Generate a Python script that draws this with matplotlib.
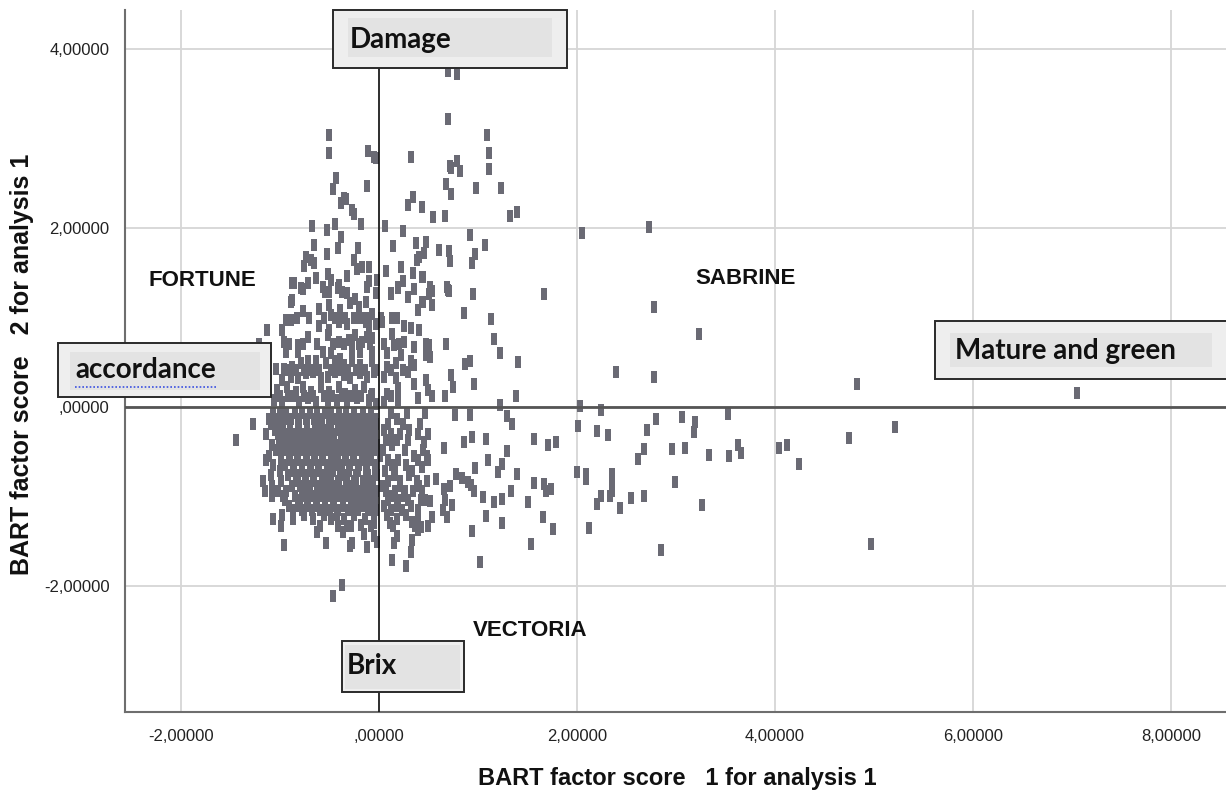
import matplotlib
matplotlib.use("Agg")
import matplotlib.pyplot as plt
from matplotlib.patches import Rectangle
from matplotlib.lines import Line2D

# ---------------- data ----------------
# sparse points on the right side of the cloud
right_x = [2.05, 2.73, 2.78, 3.23, 2.39, 2.78, 4.83, 7.05, 2.03, 2.24, 3.53, 2.01, 2.20, 2.31,
           2.71, 2.80, 3.06, 3.19, 3.18, 5.21, 4.75, 2.68, 2.62, 2.96, 3.09, 3.33, 3.54, 3.63,
           3.66, 4.04, 4.12, 4.24, 2.00, 2.09, 2.09, 2.35, 2.35, 2.35, 2.24, 2.20, 2.33, 2.43,
           2.55, 2.68, 2.99, 3.26, 2.12, 2.85, 4.97]
right_y = [1.94, 2.01, 1.12, 0.82, 0.39, 0.34, 0.26, 0.16, 0.01, -0.03, -0.08, -0.21, -0.27, -0.31,
           -0.26, -0.13, -0.11, -0.17, -0.28, -0.22, -0.34, -0.47, -0.58, -0.47, -0.46, -0.53, -0.55, -0.42,
           -0.51, -0.46, -0.42, -0.63, -0.72, -0.74, -0.80, -0.74, -0.85, -0.94, -0.99, -1.08, -0.99, -1.12,
           -1.01, -0.99, -0.84, -1.09, -1.35, -1.59, -1.53]

# upper part of the cloud
upper_x = [0.70, 0.79, 0.70, -0.51, -0.51, 1.09, 1.11, 1.11, -0.11, -0.05, -0.03, 0.32, 0.72, 0.79,
           0.82, 0.73, -0.43, -0.46, -0.12, 0.68, 0.73, 0.98, 1.23, -0.35, -0.38, -0.33, 0.34, 0.29,
           0.43, -0.27, -0.25, -0.18, 0.55, 0.67, 1.32, 1.39, -0.68, -0.53, -0.44, 0.06, 0.24, -0.38,
           0.92, -0.66, -0.41, -0.53, -0.21, 0.14, 0.37, 0.47, 0.45, 0.61, 0.71, 0.72, 1.07, 0.97,
           0.94, 0.38, 0.40, -0.74, -0.69, -0.76, -0.66, -0.25, -0.22, -0.17, -0.10, -0.10, -0.02, 0.07,
           0.22, 0.34, 0.44, 0.24, 0.19, 0.12, 0.52, 0.70, 0.95, 1.67, -0.86, -0.79, -0.72, -0.64,
           -0.52, -0.49, -0.55, -0.41, -0.32, -0.37, -0.88]
upper_y = [3.75, 3.72, 3.21, 3.04, 2.84, 3.04, 2.83, 2.66, 2.86, 2.79, 2.78, 2.79, 2.69, 2.75,
           2.63, 2.67, 2.56, 2.43, 2.47, 2.49, 2.38, 2.45, 2.45, 2.33, 2.28, 2.32, 2.34, 2.25,
           2.23, 2.20, 2.15, 2.04, 2.12, 2.13, 2.13, 2.18, 2.02, 1.98, 2.04, 2.02, 1.97, 1.90,
           1.92, 1.81, 1.77, 1.71, 1.77, 1.80, 1.83, 1.84, 1.72, 1.75, 1.74, 1.63, 1.81, 1.71,
           1.61, 1.64, 1.67, 1.67, 1.64, 1.57, 1.61, 1.64, 1.54, 1.56, 1.56, 1.41, 1.42, 1.52,
           1.56, 1.50, 1.45, 1.41, 1.33, 1.26, 1.32, 1.31, 1.26, 1.26, 1.39, 1.33, 1.39, 1.44,
           1.49, 1.42, 1.29, 1.33, 1.46, 1.29, 1.20]

# middle band of the cloud (0 < score 2 < 1.45)
mid_x = [-0.88, -0.77, -0.57, -0.51, -0.40, -0.32, -0.24, -0.12, -0.03,
         -0.89, -0.77, -0.61, -0.51, -0.49, -0.39, -0.29, -0.20, -0.13, -0.07,
         0.12, 0.19, 0.29, 0.35, 0.44, 0.52, 0.54,
         -0.94, -0.89, -1.13, -0.98, -0.61, -0.51, -0.40, -0.32, -0.20, -0.13, -0.10, -0.03, 0.03,
         0.13, 0.25, 0.32, 0.39, 0.40,
         -0.96, -0.82, -0.72, -0.52, -0.40, -0.30, -0.24, -0.17, -0.12, -0.07,
         0.13, 0.15, 0.25, 0.35, 0.47, 0.51,
         -0.94, -0.82, -0.57, -0.49, -0.39, -0.27, -0.19, -0.07,
         0.08, 0.22, 0.32, 0.47, -1.21,
         -1.04, -0.96, -0.88, -0.79, -0.72, -0.64, -0.54, -0.44, -0.35, -0.27, -0.19, -0.07,
         0.08, 0.17, 0.29, 0.35,
         -0.98, -0.89, -0.82, -0.74, -0.67, -0.59, -0.52, -0.44, -0.35, -0.29, -0.19, -0.12, -0.05,
         0.05, 0.17, 0.35, 0.47,
         -1.03, -0.93, -0.84, -0.77, -0.69, -0.59, -0.51, -0.40, -0.34, -0.24, -0.15, -0.07,
         0.08, 0.19, 0.49, 0.54,
         -1.06, -0.98, -0.89, -0.81, -0.72, -0.64, -0.52, -0.42, -0.32, -0.22, -0.10, -0.03,
         0.05, 0.19, 0.39,
         0.43, 0.50, 0.54, 0.43, 0.69, 0.71, 0.86, 1.13, 1.16, 0.50, 0.68, 1.22, 0.87, 0.92,
         1.40, 0.73, 0.96, 0.75, 0.67, 1.38, 1.22]
mid_y = [1.38, 1.32, 1.34, 1.29, 1.36, 1.27, 1.21, 1.34, 1.27,
         1.17, 1.07, 1.10, 1.14, 1.03, 1.08, 1.16, 1.12, 1.17, 1.04,
         1.27, 1.34, 1.23, 1.32, 1.17, 1.34, 1.14,
         0.97, 0.97, 0.86, 0.86, 0.91, 0.86, 0.95, 0.93, 0.99, 0.95, 0.86, 0.93, 0.95,
         0.99, 0.91, 0.88, 1.08, 0.86,
         0.73, 0.69, 0.78, 0.80, 0.73, 0.75, 0.80, 0.73, 0.78, 0.77,
         0.82, 0.69, 0.73, 0.67, 0.71, 0.56,
         0.62, 0.62, 0.62, 0.60, 0.54, 0.65, 0.62, 0.62,
         0.60, 0.58, 0.52, 0.58, 0.71,
         0.43, 0.43, 0.45, 0.49, 0.51, 0.52, 0.49, 0.52, 0.47, 0.52, 0.47, 0.51,
         0.45, 0.49, 0.39, 0.47,
         0.30, 0.34, 0.32, 0.38, 0.39, 0.32, 0.34, 0.39, 0.36, 0.32, 0.38, 0.34, 0.39,
         0.34, 0.32, 0.26, 0.30,
         0.19, 0.23, 0.17, 0.23, 0.17, 0.23, 0.17, 0.23, 0.15, 0.19, 0.23, 0.15,
         0.15, 0.21, 0.19, 0.13,
         0.08, 0.06, 0.12, 0.06, 0.10, 0.06, 0.08, 0.08, 0.06, 0.10, 0.08, 0.04,
         0.06, 0.08, 0.10,
         1.45, 1.26, 1.30, 1.17, 1.34, 1.30, 1.05, 0.98, 0.76, 0.69, 0.71, 0.60, 0.48, 0.51,
         0.50, 0.36, 0.26, 0.22, 0.12, 0.12, 0.02]

# densely overlapping parts: each row gives a score-2 level and the score-1 values read along it
dense_rows_y = [1.00, 0.70, 0.41, 0.13,
                -0.07, -0.13, -0.19, -0.25, -0.30, -0.37, -0.42, -0.48, -0.54, -0.59, -0.65,
                -0.71, -0.76, -0.82, -0.88, -0.93, -0.99, -1.04, -1.10, -1.15, -1.20, -1.25, -1.32]
dense_rows_x = [
    [-0.83, -0.71, -0.56, -0.44, -0.34, -0.25, -0.16, -0.10, 0.02, 0.18],
    [-0.91, -0.77, -0.63, -0.46, -0.35, -0.27, -0.20, -0.09, 0.05, 0.20],
    [-0.93, -0.84, -0.76, -0.69, -0.61, -0.49, -0.39, -0.31, -0.23, -0.14, -0.03, 0.12, 0.24],
    [-1.00, -0.92, -0.85, -0.76, -0.67, -0.56, -0.47, -0.37, -0.28, -0.18, -0.08, 0.12],
    [-1.07, -1.00, -0.94, -0.85, -0.78, -0.70, -0.63, -0.55, -0.48, -0.40, -0.33, -0.25, -0.16, -0.08, 0.12, 0.28, 0.46],
    [-1.11, -1.03, -0.96, -0.89, -0.81, -0.74, -0.66, -0.59, -0.51, -0.44, -0.37, -0.29, -0.21, -0.12, -0.04, 0.18],
    [-1.27, -1.09, -0.99, -0.90, -0.82, -0.73, -0.65, -0.58, -0.50, -0.41, -0.35, -0.26, -0.18, -0.09, -0.03, 0.09, 0.24, 0.41],
    [-1.05, -0.97, -0.90, -0.81, -0.73, -0.64, -0.56, -0.48, -0.40, -0.32, -0.24, -0.15, -0.07, 0.05, 0.30],
    [-1.14, -1.02, -0.94, -0.85, -0.77, -0.68, -0.60, -0.52, -0.45, -0.36, -0.28, -0.20, -0.11, -0.04, 0.12, 0.21, 0.39, 0.49],
    [-1.44, -0.99, -0.89, -0.80, -0.72, -0.63, -0.55, -0.46, -0.38, -0.31, -0.23, -0.14, -0.06, 0.07, 0.18, 0.29],
    [-1.08, -1.01, -0.93, -0.84, -0.76, -0.67, -0.59, -0.50, -0.42, -0.34, -0.27, -0.18, -0.10, -0.02, 0.13],
    [-1.04, -0.95, -0.87, -0.78, -0.70, -0.62, -0.53, -0.45, -0.38, -0.30, -0.21, -0.13, -0.04, 0.04, 0.26, 0.44],
    [-1.11, -0.99, -0.91, -0.83, -0.74, -0.66, -0.58, -0.49, -0.42, -0.34, -0.26, -0.17, -0.10, 0.01, 0.35],
    [-1.14, -0.99, -0.90, -0.82, -0.73, -0.65, -0.57, -0.48, -0.41, -0.33, -0.25, -0.16, -0.08, 0.09, 0.19, 0.39, 0.49],
    [-1.07, -0.95, -0.86, -0.78, -0.69, -0.61, -0.52, -0.44, -0.37, -0.29, -0.20, -0.12, -0.03, 0.13, 0.27],
    [-1.00, -0.87, -0.78, -0.70, -0.62, -0.53, -0.46, -0.38, -0.30, -0.21, -0.13, -0.04, 0.06, 0.16, 0.33],
    [-1.09, -0.92, -0.84, -0.74, -0.66, -0.56, -0.48, -0.39, -0.32, -0.23, -0.11, -0.02, 0.15, 0.30],
    [-1.17, -0.99, -0.82, -0.75, -0.67, -0.58, -0.50, -0.41, -0.33, -0.25, -0.16, -0.08, 0.09, 0.21, 0.38, 0.48],
    [-1.08, -0.88, -0.80, -0.72, -0.63, -0.56, -0.47, -0.40, -0.31, -0.23, -0.14, -0.06, 0.03, 0.21, 0.40],
    [-1.15, -1.02, -0.94, -0.78, -0.70, -0.62, -0.53, -0.45, -0.36, -0.28, -0.20, -0.11, -0.03, 0.07, 0.16, 0.26, 0.34, 0.43],
    [-1.08, -0.97, -0.85, -0.76, -0.67, -0.59, -0.50, -0.42, -0.33, -0.24, -0.15, -0.07, 0.13, 0.25],
    [-0.95, -0.80, -0.72, -0.63, -0.55, -0.46, -0.36, -0.28, -0.20, -0.11, -0.04, 0.09, 0.19, 0.29, 0.46],
    [-0.91, -0.82, -0.73, -0.64, -0.55, -0.45, -0.36, -0.26, -0.16, -0.07, 0.05, 0.18, 0.32],
    [-0.87, -0.78, -0.68, -0.60, -0.50, -0.41, -0.31, -0.21, -0.11, -0.03, 0.12, 0.23, 0.39],
    [-0.98, -0.76, -0.56, -0.42, -0.25, -0.05, 0.08, 0.27],
    [-1.07, -0.87, -0.67, -0.48, -0.35, -0.14, 0.18, 0.39],
    [-0.99, -0.60, -0.41, -0.28, -0.08, 0.14, 0.36, 0.49],
]

# scattered points below zero (bottom tail and right of the dense band)
tail_x = [-0.96, -0.63, -0.54, -0.36, -0.32, -0.29, -0.27, -0.18, -0.15, -0.12, -0.05, -0.05, -0.02,
          0.11, 0.18, 0.15, 0.13, 0.27, 0.33, 0.32, 0.39, 0.33, -0.37, -0.46,
          0.45, 0.77, 0.92, 1.29, 1.34, 0.66, 0.86, 0.94, 1.08, 1.57, 1.71, 1.79, 0.48, 0.43,
          1.29, 1.10, 1.24, 1.20, 0.97, 1.39, 0.78, 0.84, 0.58, 0.90, 0.93, 0.96, 0.66, 0.72,
          1.33, 1.57, 1.67, 1.69, 1.74, 0.42, 0.52, 0.67, 0.74, 0.65, 0.69, 0.54, 1.05, 1.16,
          1.24, 1.50, 1.08, 1.24, 1.66, 1.76, 0.94, 1.54, 1.02, 0.42]
tail_y = [-1.54, -1.39, -1.51, -1.39, -1.33, -1.55, -1.52, -1.31, -1.41, -1.56, -1.29, -1.44, -1.50,
          -1.29, -1.44, -1.51, -1.70, -1.77, -1.48, -1.61, -1.37, -1.28, -1.98, -2.11,
          -0.39, -0.09, -0.09, -0.10, -0.19, -0.46, -0.39, -0.33, -0.35, -0.35, -0.42, -0.39, -0.54, -0.67,
          -0.49, -0.59, -0.63, -0.72, -0.68, -0.74, -0.74, -0.79, -0.80, -0.83, -0.87, -0.93, -0.91, -0.88,
          -0.93, -0.85, -0.86, -0.94, -0.91, -1.04, -1.05, -1.04, -1.09, -1.15, -1.23, -1.22, -1.00, -1.06,
          -1.02, -1.06, -1.21, -1.29, -1.22, -1.36, -1.38, -1.53, -1.73, -1.34]

x_ticks = [-2, 0, 2, 4, 6, 8]
x_tick_labels = ["-2,00000", ",00000", "2,00000", "4,00000", "6,00000", "8,00000"]
y_ticks = [-2, 0, 2, 4]
y_tick_labels = ["-2,00000", ",00000", "2,00000", "4,00000"]

x_label = "BART factor score   1 for analysis 1"
y_label = "BART factor score   2 for analysis 1"
group_labels = ["FORTUNE", "SABRINE", "VECTORIA"]
box_labels = ["Damage", "accordance", "Mature and green", "Brix"]

# ---------------- build point arrays ----------------
all_x = right_x + upper_x + mid_x + tail_x
all_y = right_y + upper_y + mid_y + tail_y
for yv, xs in zip(dense_rows_y, dense_rows_x):
    all_x += xs
    all_y += [yv] * len(xs)

# ---------------- figure ----------------
W, H = 1226, 793
fig = plt.figure(figsize=(W / 100, H / 100), dpi=100)
fig.patch.set_facecolor("white")


def fx(px):
    return px / W


def fy(py):
    return 1 - py / H


ax = fig.add_axes([fx(125), fy(712), fx(1226) - fx(125), fy(10) - fy(712)])
ax.set_xlim(-2.566, 8.556)
ax.set_ylim(-3.40, 4.43)

ax.set_xticks(x_ticks)
ax.set_xticklabels(x_tick_labels)
ax.set_yticks(y_ticks)
ax.set_yticklabels(y_tick_labels)
for lab in ax.get_xticklabels() + ax.get_yticklabels():
    lab.set_fontfamily("Liberation Sans")
    lab.set_fontsize(12)
    lab.set_color("#222222")
ax.tick_params(axis="x", length=0, pad=12)
ax.tick_params(axis="y", length=0, pad=11)

ax.grid(True, color="#d6d6d6", linewidth=1.3, zorder=0)
ax.set_axisbelow(True)
for s in ["top", "right"]:
    ax.spines[s].set_visible(False)
for s in ["left", "bottom"]:
    ax.spines[s].set_color("#6e6e6e")
    ax.spines[s].set_linewidth(1.5)

rect_marker = [(-0.24, -0.5), (0.24, -0.5), (0.24, 0.5), (-0.24, 0.5), (-0.24, -0.5)]
ax.plot(all_x, all_y, linestyle="none", marker=rect_marker, markersize=8.5,
        markerfacecolor="#6a6a74", markeredgewidth=0, zorder=2)

ax.axhline(0, color="#555555", linewidth=2.0, zorder=3)
ax.axvline(0, color="#111111", linewidth=1.2, zorder=3)

fig.text(fx(677), fy(778), x_label, family="Liberation Sans", fontweight="bold", fontsize=17,
         ha="center", va="center", color="#111111")
fig.text(fx(22), fy(364), y_label, family="Liberation Sans", fontweight="bold", fontsize=18,
         ha="center", va="center", rotation=90, color="#111111")

# group labels
lab_font = dict(family="Liberation Sans", fontweight="bold", fontsize=16, color="#111111",
                ha="left", va="center")
fig.text(fx(148), fy(280), group_labels[0], **lab_font)
fig.text(fx(695), fy(279), group_labels[1], **lab_font)
fig.text(fx(473), fy(630), group_labels[2], **lab_font)


# annotation boxes
def add_box(x0, y0, x1, y1, ix0, iy0, ix1, iy1, text, tx, ty):
    outer = Rectangle((fx(x0), fy(y1)), fx(x1) - fx(x0), fy(y0) - fy(y1), transform=fig.transFigure,
                      facecolor="#eeeeee", edgecolor="#2a2a2a", linewidth=1.4, zorder=10)
    fig.add_artist(outer)
    inner = Rectangle((fx(ix0), fy(iy1)), fx(ix1) - fx(ix0), fy(iy0) - fy(iy1), transform=fig.transFigure,
                      facecolor="#e3e3e3", edgecolor="none", zorder=11)
    fig.add_artist(inner)
    return fig.text(fx(tx), fy(ty), text, family="Lato", fontweight="bold", fontsize=20,
                    color="#111111", ha="left", va="center", zorder=12)


add_box(333, 10, 567, 68, 348, 18, 552, 57, box_labels[0], 350, 40)
add_box(58, 343, 271, 397, 70, 352, 260, 390, box_labels[1], 75, 370)
add_box(935, 321, 1240, 379, 950, 333, 1212, 367, box_labels[2], 955, 351)
add_box(342, 641, 464, 692, 345, 645, 460, 689, box_labels[3], 347, 666)

# blue dotted spell-check underline under "accordance"
fig.add_artist(Line2D([fx(75), fx(216)], [fy(387), fy(387)], transform=fig.transFigure,
                      color="#3a50e0", linewidth=1.2, linestyle=(0, (1, 1.2)), zorder=13))

fig.savefig("out.png", dpi=100, facecolor="white")
